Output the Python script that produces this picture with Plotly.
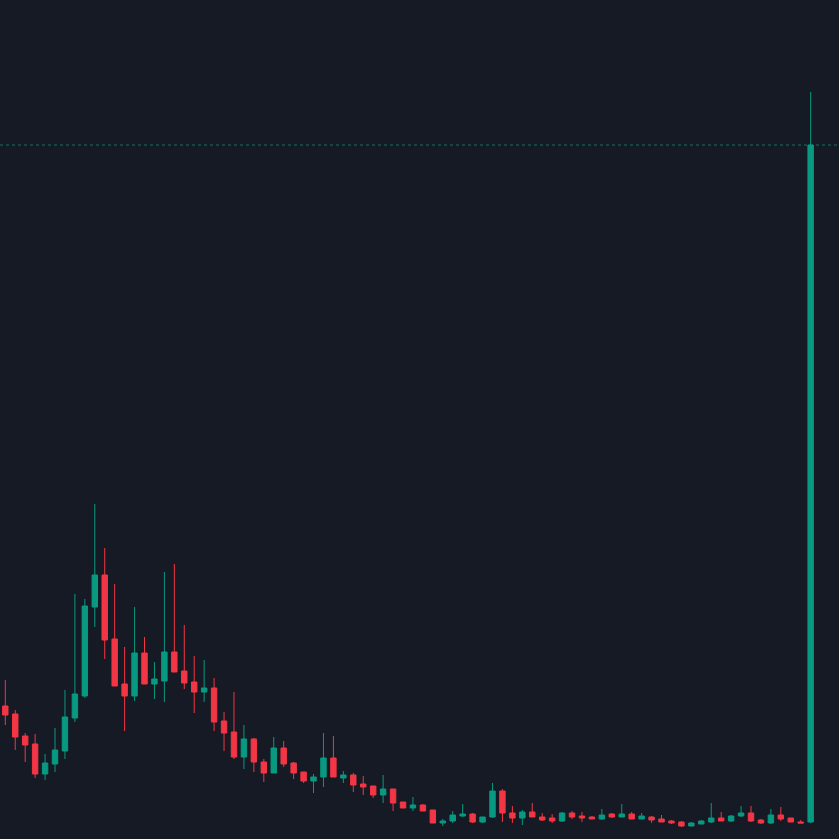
import plotly.graph_objects as go

bars = list(range(82))
opens = [133,125,103,95,65,75,88,121,143,232,264,200,155,143,186,155,158,187,168,157,
         147,151,118,107,82,100,77,66,91,76,67,58,62,81,61,64,55,53,44,50,
         37,31,34,29,16,18,23,25,17,22,48,26,21,27,22,21,18,26,23,22,
         20,25,22,25,20,22,20,18,17,13,15,17,21,18,23,26,19,16,24,21,
         17,17]
highs = [159,129,106,105,85,111,149,245,240,335,291,255,192,232,202,177,267,275,214,183,
         179,161,127,147,114,101,80,102,98,77,67,65,106,103,68,66,63,53,64,50,
         37,42,35,29,20,28,35,26,22,56,50,33,29,36,26,25,27,28,27,23,
         30,26,35,27,26,23,24,19,18,17,19,36,27,24,33,33,20,30,32,21,
         19,747]
lows = [114,89,77,61,59,67,80,117,141,212,180,153,108,138,155,140,137,167,150,126,
        137,108,88,80,70,67,57,66,72,60,56,46,52,62,56,47,44,41,36,28,
        31,28,28,16,13,16,22,16,16,21,17,16,14,22,18,16,17,20,17,20,
        19,21,22,20,20,16,17,15,12,13,15,16,18,17,22,17,15,15,18,17,
        16,16]
closes = [124,102,94,65,76,89,122,145,233,264,199,153,143,186,155,160,187,167,156,147,
          151,117,106,82,100,77,66,91,75,66,58,62,81,62,64,54,52,44,50,36,
          31,34,28,16,18,24,25,17,22,48,26,21,27,22,19,18,26,22,21,20,
          24,22,25,20,23,19,17,16,13,16,18,21,18,23,26,18,16,24,20,17,
          16,694]

UP = "#089981"
DOWN = "#f23645"
BG = "#161a25"

fig = go.Figure(go.Candlestick(
    x=bars, open=opens, high=highs, low=lows, close=closes,
    increasing=dict(line=dict(color=UP, width=1), fillcolor=UP),
    decreasing=dict(line=dict(color=DOWN, width=1), fillcolor=DOWN),
    whiskerwidth=0,
    hoverinfo="none",
))

fig.add_shape(type="line", xref="paper", x0=0, x1=1, yref="y",
              y0=closes[-1], y1=closes[-1],
              line=dict(color=UP, width=1, dash="dot"), opacity=0.7)

fig.update_layout(
    width=839, height=839,
    margin=dict(l=0, r=0, t=0, b=0),
    paper_bgcolor=BG, plot_bgcolor=BG,
    showlegend=False,
    boxgap=0.22,
    xaxis=dict(visible=False, range=[-0.533, 83.85], rangeslider=dict(visible=False)),
    yaxis=dict(visible=False, range=[0, 839]),
)

fig.write_html(
    "out.html",
    config={"displayModeBar": False},
    post_script="document.body.style.margin='0';document.body.style.background='" + BG + "';",
)
